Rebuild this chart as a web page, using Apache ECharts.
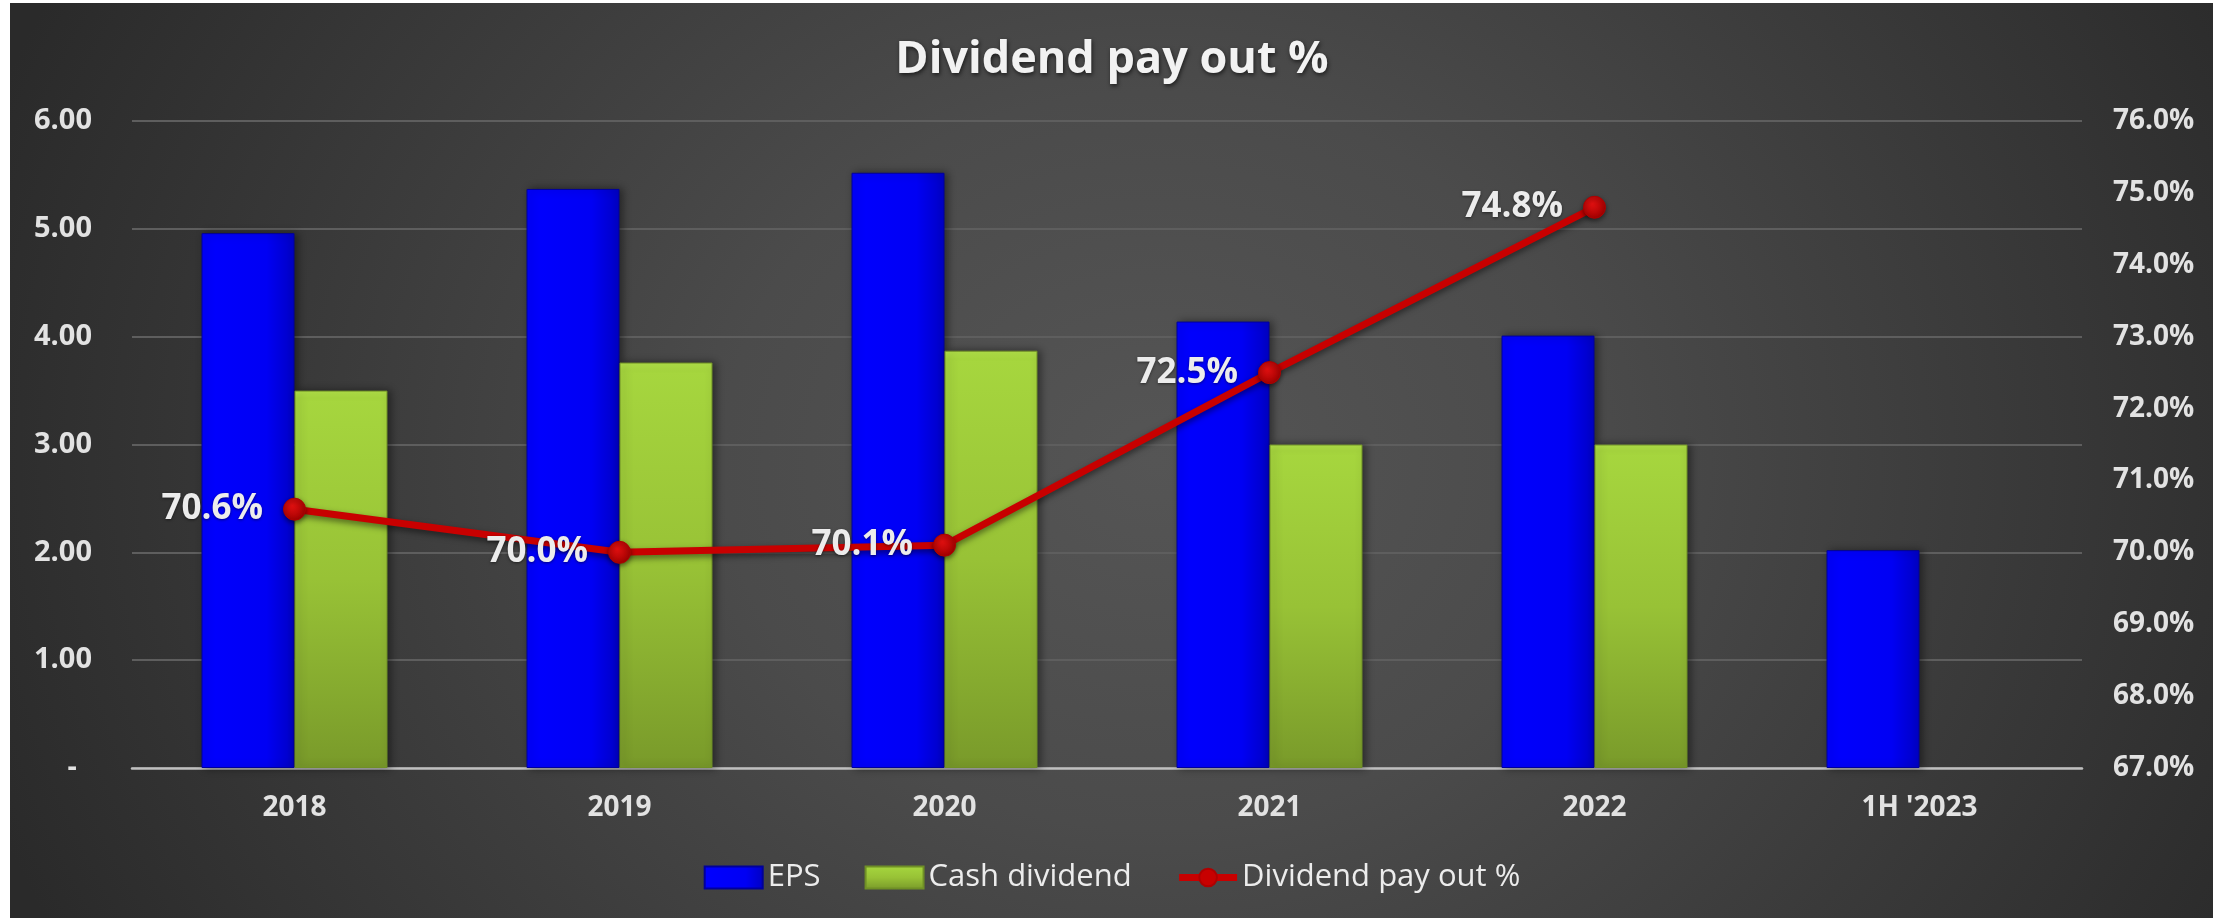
<!DOCTYPE html>
<html>
<head>
<meta charset="utf-8">
<script src="https://cdn.jsdelivr.net/npm/echarts@6/dist/echarts.min.js"></script>
<style>
  html, body { margin: 0; padding: 0; background: #ffffff; width: 2224px; height: 918px; overflow: hidden; }
  #panel { position: absolute; left: 10px; top: 3px; width: 2203px; height: 915px;
    background: radial-gradient(ellipse 56% 115% at 52% 50%, #555555 0%, #4b4b4b 35%, #2a2a2a 100%); }
  #chart { position: absolute; left: 0; top: 0; width: 2224px; height: 918px; }
</style>
</head>
<body>
<div id="panel"></div>
<div id="chart"></div>
<script>
const categories = ['2018', '2019', '2020', '2021', '2022', "1H '2023"];
const epsValues = [4.96, 5.37, 5.52, 4.14, 4.01, 2.02];
const cashDividendValues = [3.50, 3.76, 3.87, 3.00, 3.00, null];
const payoutValues = [70.6, 70.0, 70.1, 72.5, 74.8, null];
const leftTicks = { min: 0, max: 6, interval: 1 };
const rightTicks = { min: 67, max: 76, interval: 1 };

const FONT = '"Open Sans", "DejaVu Sans", sans-serif';
const chart = echarts.init(document.getElementById('chart'), null, { renderer: 'canvas' });

const lineColor = '#c80000';

const option = {
  backgroundColor: 'transparent',
  animation: false,
  title: {
    text: 'Dividend pay out %',
    left: 'center',
    top: 33,
    textStyle: {
      color: '#f2f2f2', fontFamily: FONT, fontSize: 45, fontWeight: 'bold',
      textShadowColor: 'rgba(0,0,0,0.6)', textShadowBlur: 4, textShadowOffsetX: 1, textShadowOffsetY: 2
    }
  },
  legend: {
    bottom: 20,
    left: 'center',
    itemWidth: 58,
    itemHeight: 22,
    itemGap: 44,
    textStyle: { color: '#ececec', fontFamily: FONT, fontSize: 31 },
    data: [
      { name: 'EPS', icon: 'rect' },
      { name: 'Cash dividend', icon: 'rect' },
      { name: 'Dividend pay out %', lineStyle: { width: 7, color: lineColor }, itemStyle: { color: lineColor } }
    ]
  },
  grid: { left: 132, right: 142, top: 121, bottom: 150 },
  xAxis: {
    type: 'category',
    data: categories,
    axisTick: { show: false },
    axisLine: { lineStyle: { color: '#bfbfbf', width: 2.5 } },
    axisLabel: { color: '#e2e2e2', fontFamily: FONT, fontSize: 28, fontWeight: 'bold', margin: 26 }
  },
  yAxis: [
    {
      type: 'value',
      min: leftTicks.min, max: leftTicks.max, interval: leftTicks.interval,
      axisLine: { show: false },
      axisTick: { show: false },
      splitLine: { lineStyle: { color: '#5e5e5e', width: 2 } },
      axisLabel: {
        color: '#e2e2e2', fontFamily: FONT, fontSize: 29, fontWeight: 'bold', margin: 40,
        formatter: v => v === 0 ? '-  ' : v.toFixed(2)
      }
    },
    {
      type: 'value',
      min: rightTicks.min, max: rightTicks.max, interval: rightTicks.interval,
      axisLine: { show: false },
      axisTick: { show: false },
      splitLine: { show: false },
      axisLabel: {
        color: '#e2e2e2', fontFamily: FONT, fontSize: 28, fontWeight: 'bold', margin: 31,
        formatter: v => v.toFixed(1) + '%'
      }
    }
  ],
  series: [
    {
      name: 'EPS',
      type: 'bar',
      data: epsValues,
      barWidth: 93,
      barGap: '0%',
      itemStyle: {
        color: new echarts.graphic.LinearGradient(0, 0, 1, 0, [
          { offset: 0, color: '#0000ff' },
          { offset: 0.7, color: '#0000f4' },
          { offset: 1, color: '#0000c4' }
        ]),
        borderColor: '#00009a', borderWidth: 1,
        shadowColor: 'rgba(0,0,0,0.45)', shadowBlur: 8, shadowOffsetX: 3, shadowOffsetY: 0
      }
    },
    {
      name: 'Cash dividend',
      type: 'bar',
      data: cashDividendValues,
      barWidth: 93,
      barGap: '0%',
      itemStyle: {
        color: new echarts.graphic.LinearGradient(0, 0, 0, 1, [
          { offset: 0, color: '#b4e44a' },
          { offset: 0.02, color: '#a6d63e' },
          { offset: 0.5, color: '#98c236' },
          { offset: 1, color: '#799a2a' }
        ]),
        borderColor: '#6f8f26', borderWidth: 1,
        shadowColor: 'rgba(0,0,0,0.45)', shadowBlur: 8, shadowOffsetX: 3, shadowOffsetY: 0
      }
    },
    {
      name: 'Dividend pay out %',
      type: 'line',
      yAxisIndex: 1,
      data: payoutValues,
      z: 5,
      symbol: 'circle',
      symbolSize: 22,
      lineStyle: {
        color: lineColor, width: 7,
        shadowColor: 'rgba(0,0,0,0.5)', shadowBlur: 6, shadowOffsetY: 3
      },
      itemStyle: {
        color: new echarts.graphic.RadialGradient(0.4, 0.35, 0.7, [
          { offset: 0, color: '#e01010' },
          { offset: 1, color: '#a00000' }
        ]),
        borderColor: '#b00000', borderWidth: 1,
        shadowColor: 'rgba(0,0,0,0.5)', shadowBlur: 5, shadowOffsetY: 2
      },
      label: {
        show: true,
        position: 'left',
        distance: 20,
        color: '#ececec',
        fontFamily: FONT,
        fontSize: 35,
        fontWeight: 'bold',
        textShadowColor: 'rgba(0,0,0,0.5)', textShadowBlur: 3, textShadowOffsetY: 1,
        formatter: p => p.value == null ? '' : p.value.toFixed(1) + '%'
      }
    }
  ]
};
chart.setOption(option);
</script>
</body>
</html>
